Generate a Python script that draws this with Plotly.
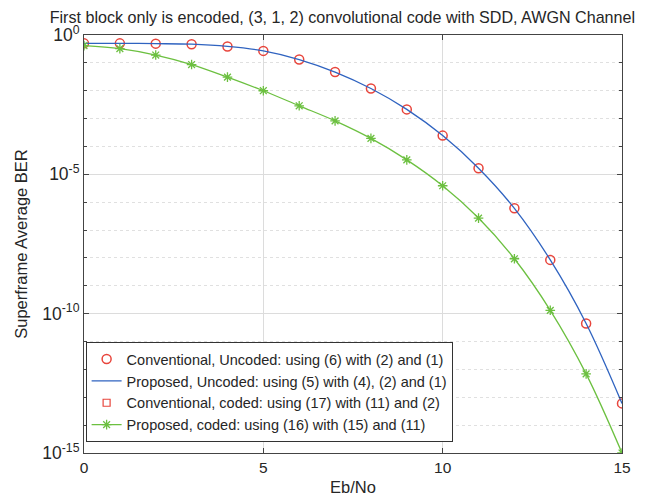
import plotly.graph_objects as go

ebno = list(range(0, 16))
ber_conv_uncoded = [10**-0.30, 10**-0.30, 10**-0.31, 10**-0.33, 10**-0.41, 10**-0.57, 10**-0.88,
                    10**-1.33, 10**-1.92, 10**-2.67, 10**-3.61, 10**-4.78, 10**-6.22, 10**-8.07,
                    10**-10.35, 10**-13.22]
ber_prop_uncoded = ber_conv_uncoded[:]
ber_conv_coded = [None]
ber_prop_coded = [10**-0.38, 10**-0.49, 10**-0.72, 10**-1.06, 10**-1.51, 10**-2.00, 10**-2.54,
                  10**-3.08, 10**-3.71, 10**-4.48, 10**-5.41, 10**-6.57, 10**-8.03, 10**-9.88,
                  10**-12.16, 10**-15.0]

legend_names = [
    "Conventional, Uncoded: using (6) with (2) and (1)",
    "Proposed, Uncoded: using (5) with (4), (2) and (1)",
    "Conventional, coded: using (17) with (11) and (2)",
    "Proposed, coded: using (16) with (15) and (11)",
]
x_ticks = [0, 5, 10, 15]
y_tickvals = [1e0, 1e-5, 1e-10, 1e-15]
y_ticktext = ["10<sup>0</sup>", "10<sup>-5</sup>", "10<sup>-10</sup>", "10<sup>-15</sup>"]

RED = "#e8453c"
BLUE = "#2f63c0"
GREEN = "#6cc040"
TXT = "#262626"

fig = go.Figure()
fig.add_trace(go.Scatter(x=ebno, y=ber_conv_uncoded, mode="markers", name=legend_names[0],
                         marker=dict(symbol="circle-open", size=9, color=RED, line=dict(width=1.5))))
fig.add_trace(go.Scatter(x=ebno, y=ber_prop_uncoded, mode="lines", name=legend_names[1],
                         line=dict(color=BLUE, width=1.3, shape="spline")))
fig.add_trace(go.Scatter(x=[None], y=ber_conv_coded, mode="markers", name=legend_names[2],
                         marker=dict(symbol="square-open", size=7, color=RED, line=dict(width=1.2))))
fig.add_trace(go.Scatter(x=ebno, y=ber_prop_coded, mode="lines+markers", name=legend_names[3],
                         line=dict(color=GREEN, width=1.3, shape="spline"),
                         marker=dict(symbol="asterisk-open", size=8, color=GREEN, line=dict(width=1.3, color=GREEN))))

minor_vals = [10**(-k) for k in range(1, 15) if k % 5 != 0]

fig.update_layout(
    width=648, height=497,
    margin=dict(l=76, r=34, t=27, b=46),
    paper_bgcolor="white", plot_bgcolor="white",
    font=dict(family="Liberation Sans, Arial, sans-serif", size=15, color=TXT),
    title=dict(text="First block only is encoded, (3, 1, 2) convolutional code with SDD, AWGN Channel",
               x=0.516, xanchor="center", y=0.982, yanchor="middle", font=dict(size=16.1, color=TXT)),
    showlegend=True,
    legend=dict(x=0.003, y=0.026, xanchor="left", yanchor="bottom",
                bgcolor="white", bordercolor="#333333", borderwidth=1,
                font=dict(size=14.5, color=TXT), tracegroupgap=0, itemwidth=30),
)
fig.update_xaxes(
    range=[0, 15], tickvals=x_ticks, ticks="inside", ticklen=5, tickcolor="#444",
    showline=True, linecolor="#444", linewidth=1, mirror="ticks",
    showgrid=True, gridcolor="#dcdcdc", gridwidth=1, zeroline=False,
    title=dict(text="Eb/No", font=dict(size=16.5, color=TXT), standoff=6),
    tickfont=dict(size=15.5, color=TXT),
)
fig.update_yaxes(
    type="log", range=[-15, 0], tickvals=y_tickvals, ticktext=y_ticktext,
    ticks="inside", ticklen=5, tickcolor="#444",
    showline=True, linecolor="#444", linewidth=1, mirror="ticks",
    showgrid=True, gridcolor="#dcdcdc", gridwidth=1, zeroline=False,
    minor=dict(tickvals=minor_vals, ticks="inside", ticklen=3, tickcolor="#444",
               showgrid=True, gridcolor="#e0e0e0", griddash="dot", gridwidth=1),
    title=dict(text="Superframe Average BER", font=dict(size=16.5, color=TXT), standoff=10),
    tickfont=dict(size=17.5, color=TXT),
)

fig.write_html("out.html")
